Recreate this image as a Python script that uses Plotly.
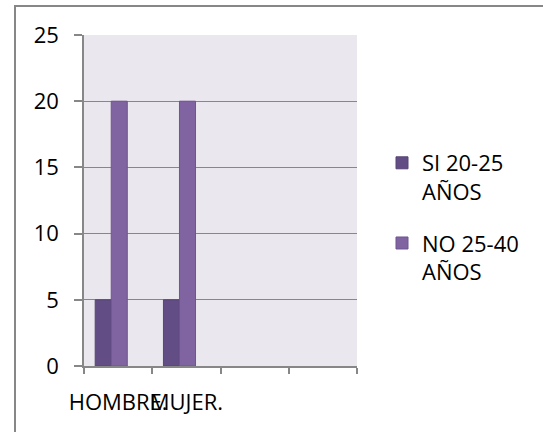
import plotly.graph_objects as go

categories = ["HOMBRE.", "MUJER."]
axis_categories = ["HOMBRE.", "MUJER.", " ", "  "]
series_names = ["SI 20-25<br>AÑOS", "NO 25-40<br>AÑOS"]
si_values = [5, 5]
no_values = [20, 20]
y_ticks = [0, 5, 10, 15, 20, 25]

FONT = "Open Sans"
GRAY = "#878787"

fig = go.Figure()
fig.add_trace(go.Bar(
    x=categories, y=si_values, name=series_names[0], legendgroup="si",
    marker=dict(color="#624D84", line=dict(color="#574476", width=1)),
    width=0.235, offset=-0.336,
))
fig.add_trace(go.Bar(
    x=categories, y=no_values, name=series_names[1], legendgroup="no",
    marker=dict(color="#8064A2", line=dict(color="#6E5590", width=1)),
    width=0.235, offset=-0.101,
))

L, R, T, B = 84, 186, 35, 66
W, H = 543, 432
pw = W - L - R
ph = H - T - B

fig.update_layout(
    width=W, height=H,
    margin=dict(l=L, r=R, t=T, b=B, pad=0, autoexpand=False),
    barmode="overlay",
    plot_bgcolor="#EAE8EE",
    paper_bgcolor="white",
    font=dict(family=FONT, size=22, color="black"),
    showlegend=True,
    legend=dict(
        x=(382 - L) / pw, xanchor="left",
        y=(H - B - 142) / ph, yanchor="top",
        valign="top",
        traceorder="grouped",
        tracegroupgap=20,
        font=dict(family=FONT, size=22, color="black"),
        bgcolor="rgba(0,0,0,0)",
        itemwidth=30,
    ),
    shapes=[dict(
        type="rect", xref="paper", yref="paper",
        x0=(15 - L) / pw, x1=(560 - L) / pw,
        y0=(H - B - 450) / ph, y1=(H - B - 6) / ph,
        line=dict(color=GRAY, width=2), fillcolor="rgba(0,0,0,0)",
        layer="below",
    )],
)
fig.update_xaxes(
    type="category", categoryorder="array", categoryarray=axis_categories,
    range=[-0.5, 3.5], tickson="boundaries", tickangle=0, automargin=False,
    showline=True, linecolor=GRAY, linewidth=1.5,
    ticks="outside", ticklen=6, tickcolor=GRAY, tickwidth=1.5,
    showgrid=False, ticklabelstandoff=16,
    tickfont=dict(family=FONT, size=22, color="black"),
)
fig.update_yaxes(
    range=[0, 25], tickvals=y_ticks, automargin=False,
    showline=True, linecolor=GRAY, linewidth=1.5,
    ticks="outside", ticklen=8, tickcolor=GRAY, tickwidth=1.5,
    showgrid=True, gridcolor=GRAY, gridwidth=1.2, zeroline=False,
    ticklabelstandoff=11,
    tickfont=dict(family=FONT, size=22, color="black"),
)

fig.write_html(
    "out.html",
    config={"displayModeBar": False},
    post_script="document.body.style.margin='0';document.body.style.overflow='hidden';",
)
